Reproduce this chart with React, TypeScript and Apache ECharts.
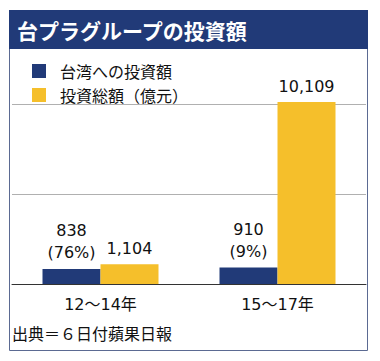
import React, { useEffect, useRef } from "react";
import * as echarts from "echarts";

const categories = ["12〜14年", "15〜17年"];
const taiwanInvestment = [838, 910];
const taiwanShare = ["76%", "9%"];
const totalInvestment = [1104, 10109];
const seriesNames = ["台湾への投資額", "投資総額（億元）"];
const titleText = "台プラグループの投資額";
const sourceText = "出典＝６日付蘋果日報";

const NAVY = "#213a78";
const YELLOW = "#f5bf2b";
const FONT = '"Noto Sans CJK JP", "Noto Sans", sans-serif';
const NUM_FONT = '"DejaVu Sans", "Noto Sans CJK JP", sans-serif';

const fmt = (v: number) => v.toLocaleString("en-US");

export default function App() {
  const ref = useRef<HTMLDivElement>(null);
  useEffect(() => {
    if (!ref.current) return;
    const chart = echarts.init(ref.current, null, { renderer: "svg" });
    chart.setOption({
      animation: false,
      backgroundColor: "#ffffff",
      textStyle: { fontFamily: FONT },
      legend: {
        orient: "vertical",
        left: 27,
        top: 58,
        itemWidth: 14,
        itemHeight: 14,
        itemGap: 8,
        icon: "rect",
        data: seriesNames,
        selectedMode: false,
        textStyle: {
          fontSize: 16,
          lineHeight: 16,
          color: "#111",
          fontFamily: FONT,
          padding: [0, 0, 0, 9],
        },
      },
      grid: { left: 12, right: 14, top: 104, bottom: 77, containLabel: false },
      xAxis: {
        type: "category",
        data: categories,
        axisLine: { lineStyle: { color: "#333", width: 1 } },
        axisTick: { show: false },
        axisLabel: { fontSize: 16, color: "#111", margin: 12, fontFamily: NUM_FONT },
      },
      yAxis: {
        type: "value",
        min: 0,
        max: 10000,
        interval: 5000,
        axisLabel: { show: false },
        axisLine: { show: false },
        axisTick: { show: false },
        splitLine: { lineStyle: { color: "#b0b0b0", width: 1 } },
      },
      series: [
        {
          name: seriesNames[0],
          type: "bar",
          data: taiwanInvestment,
          barWidth: 58,
          barGap: "0%",
          clip: false,
          itemStyle: { color: NAVY },
          label: {
            show: true,
            position: "top",
            distance: 5,
            fontSize: 16,
            lineHeight: 22,
            color: "#111",
            fontFamily: NUM_FONT,
            formatter: (p: any) => `${fmt(p.value)}\n(${taiwanShare[p.dataIndex]})`,
          },
        },
        {
          name: seriesNames[1],
          type: "bar",
          data: totalInvestment,
          barWidth: 58,
          barGap: "0%",
          clip: false,
          itemStyle: { color: YELLOW },
          label: {
            show: true,
            position: "top",
            distance: 5,
            fontSize: 16,
            lineHeight: 22,
            color: "#111",
            fontFamily: NUM_FONT,
            formatter: (p: any) => fmt(p.value),
          },
        },
      ],
      graphic: [
        {
          type: "rect",
          shape: { x: 9.5, y: 10.5, width: 358, height: 340 },
          style: { fill: "none", stroke: "#5b6a92", lineWidth: 1 },
          z: 100,
        },
        {
          type: "rect",
          shape: { x: 9, y: 10, width: 359, height: 39 },
          style: { fill: NAVY },
          z: 100,
        },
        {
          type: "text",
          x: 17,
          y: 30,
          style: {
            text: titleText,
            fill: "#ffffff",
            fontSize: 21,
            fontWeight: "bold",
            fontFamily: FONT,
            verticalAlign: "middle",
          },
          z: 101,
        },
        {
          type: "text",
          x: 12,
          y: 333,
          style: {
            text: sourceText,
            fill: "#111",
            fontSize: 16,
            fontFamily: FONT,
            verticalAlign: "middle",
          },
          z: 101,
        },
      ],
    });
    return () => chart.dispose();
  }, []);
  return (
    <div
      ref={ref}
      style={{ position: "absolute", left: 0, top: 0, width: 380, height: 361 }}
    />
  );
}
